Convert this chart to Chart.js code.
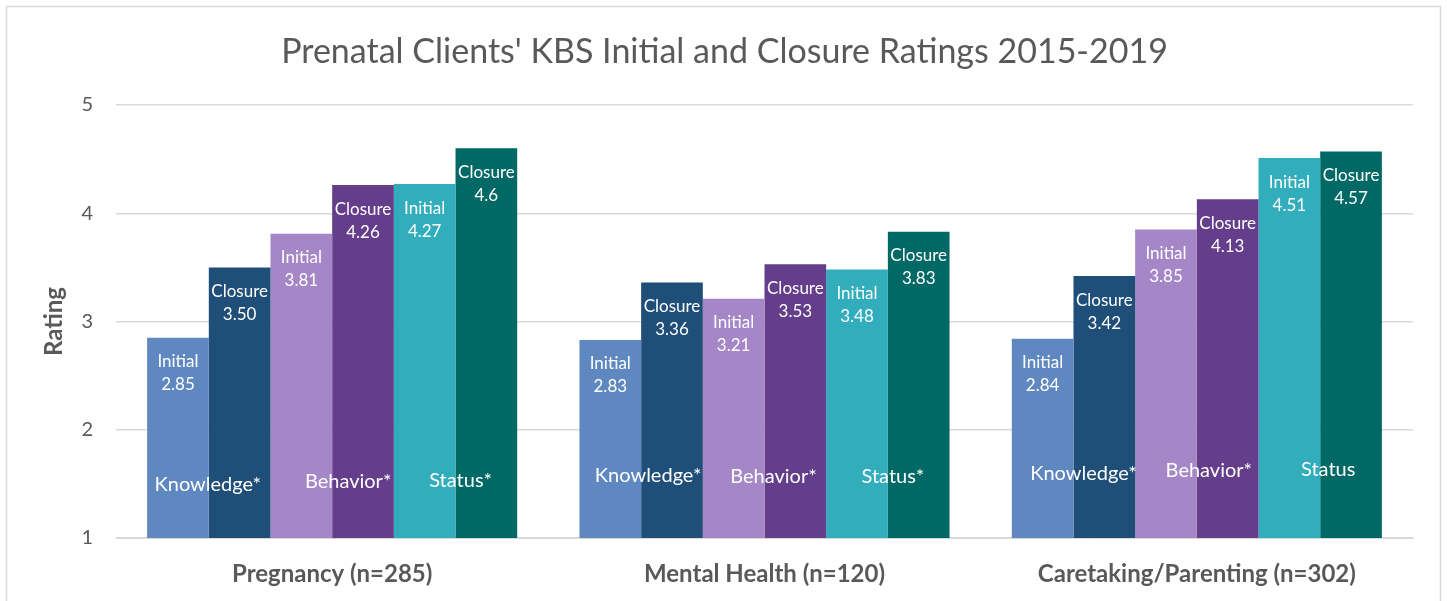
<!DOCTYPE html>
<html>
<head>
<meta charset="utf-8">
<script src="https://cdn.jsdelivr.net/npm/chart.js@4"></script>
<style>
html,body{margin:0;padding:0;background:#fff;}
#wrap{width:1447px;height:601px;position:relative;}
</style>
</head>
<body>
<div id="wrap"><canvas id="c" width="1447" height="601"></canvas></div>
<script>
// ---- data ----
const chartTitle = "Prenatal Clients' KBS Initial and Closure Ratings 2015-2019";
const categories = ["Pregnancy (n=285)", "Mental Health (n=120)", "Caretaking/Parenting (n=302)"];
const knowledgeInitial = [2.85, 2.83, 2.84];
const knowledgeClosure = [3.50, 3.36, 3.42];
const behaviorInitial  = [3.81, 3.21, 3.85];
const behaviorClosure  = [4.26, 3.53, 4.13];
const statusInitial    = [4.27, 3.48, 4.51];
const statusClosure    = [4.6, 3.83, 4.57];
const knowledgeInitialText = ["2.85", "2.83", "2.84"];
const knowledgeClosureText = ["3.50", "3.36", "3.42"];
const behaviorInitialText  = ["3.81", "3.21", "3.85"];
const behaviorClosureText  = ["4.26", "3.53", "4.13"];
const statusInitialText    = ["4.27", "3.48", "4.51"];
const statusClosureText    = ["4.6", "3.83", "4.57"];
const domainNames = [
  ["Knowledge*", "Behavior*", "Status*"],
  ["Knowledge*", "Behavior*", "Status*"],
  ["Knowledge*", "Behavior*", "Status"]
];
const yTicks = [1, 2, 3, 4, 5];

// ---- styles ----
const FONT = "Lato, 'Open Sans', sans-serif";
const GREY = "#595959";
const colors = ["#5F88C0", "#1F4E79", "#A586C7", "#643E8B", "#31ADBC", "#006966"];
// label placement tweaks (pixels) per category, per domain: [dx, height above axis]
const domainLabelPos = [
  [[-1, 53], [16, 56], [5, 57]],
  [[7, 62], [9, 61], [5, 61]],
  [[10, 64], [12, 67], [8, 68]]
];

const datasets = [
  {label: "Knowledge Initial", data: knowledgeInitial, text: knowledgeInitialText, stage: "Initial"},
  {label: "Knowledge Closure", data: knowledgeClosure, text: knowledgeClosureText, stage: "Closure"},
  {label: "Behavior Initial",  data: behaviorInitial,  text: behaviorInitialText,  stage: "Initial"},
  {label: "Behavior Closure",  data: behaviorClosure,  text: behaviorClosureText,  stage: "Closure"},
  {label: "Status Initial",    data: statusInitial,    text: statusInitialText,    stage: "Initial"},
  {label: "Status Closure",    data: statusClosure,    text: statusClosureText,    stage: "Closure"}
].map((d, i) => ({
  ...d,
  backgroundColor: colors[i],
  borderWidth: 0,
  barPercentage: 1.0,
  categoryPercentage: 0.856
}));

const frame = {
  id: "frame",
  beforeDraw(chart) {
    const ctx = chart.ctx;
    ctx.save();
    ctx.fillStyle = "#fff";
    ctx.fillRect(0, 0, chart.width, chart.height);
    ctx.strokeStyle = "#D9D9D9";
    ctx.lineWidth = 1.5;
    ctx.strokeRect(6.5, 6.5, 1434, 620);
    // chart title, centred on the whole frame
    ctx.fillStyle = GREY;
    ctx.font = "34px " + FONT;
    ctx.textAlign = "center";
    ctx.textBaseline = "alphabetic";
    ctx.fillText(chartTitle, 724.5, 62.5);
    ctx.restore();
  }
};

const barText = {
  id: "barText",
  afterDatasetsDraw(chart) {
    const ctx = chart.ctx;
    ctx.save();
    ctx.fillStyle = "#fff";
    ctx.textAlign = "center";
    ctx.textBaseline = "middle";
    ctx.font = "17px " + FONT;
    chart.data.datasets.forEach((ds, di) => {
      const meta = chart.getDatasetMeta(di);
      meta.data.forEach((bar, i) => {
        ctx.fillText(ds.stage, bar.x, bar.y + 24);
        ctx.fillText(ds.text[i], bar.x, bar.y + 47);
      });
    });
    // domain names spanning each Initial/Closure pair
    ctx.font = "20px " + FONT;
    const bottom = chart.chartArea.bottom;
    for (let c = 0; c < categories.length; c++) {
      for (let k = 0; k < 3; k++) {
        const a = chart.getDatasetMeta(2 * k).data[c];
        const b = chart.getDatasetMeta(2 * k + 1).data[c];
        const pos = domainLabelPos[c][k];
        const x = (a.x + a.width / 2 + b.x - b.width / 2) / 2 + pos[0];
        ctx.fillText(domainNames[c][k], x, bottom - pos[1]);
      }
    }
    ctx.restore();
  }
};

new Chart(document.getElementById("c"), {
  type: "bar",
  data: {labels: categories, datasets},
  plugins: [frame, barText],
  options: {
    responsive: false,
    animation: false,
    layout: {padding: {left: 0, right: 34, top: 105, bottom: 0}},
    plugins: {
      legend: {display: false},
      tooltip: {enabled: false},
      title: {display: false}
    },
    scales: {
      x: {
        grid: {display: false},
        border: {display: true, color: "#D9D9D9", width: 1},
        ticks: {color: GREY, font: {family: FONT, size: 24, weight: "bold"}, padding: 14, maxRotation: 0},
        afterFit(s) { s.height = 63; }
      },
      y: {
        min: 1, max: 5,
        afterBuildTicks(s) { s.ticks = yTicks.map(v => ({value: v})); },
        grid: {color: "#D9D9D9", lineWidth: 1.5, drawTicks: false},
        border: {display: false},
        ticks: {color: GREY, font: {family: FONT, size: 20}, padding: 23},
        title: {
          display: true, text: "Rating", color: GREY,
          font: {family: FONT, size: 24, weight: "bold", lineHeight: 1.2},
          padding: {top: 40, bottom: 0}
        },
        afterFit(s) { s.width = 116; }
      }
    }
  }
});
</script>
</body>
</html>
